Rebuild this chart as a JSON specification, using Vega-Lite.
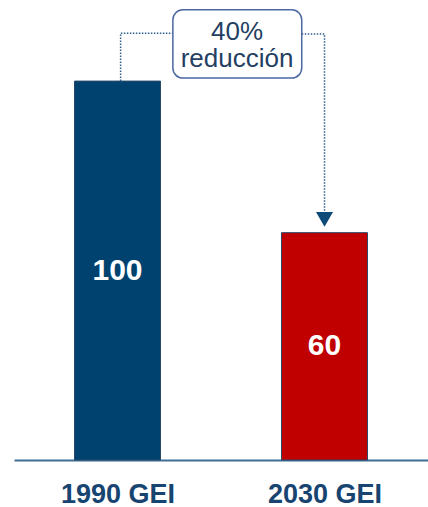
{
  "$schema": "https://vega.github.io/schema/vega-lite/v6.json",
  "width": 414,
  "height": 460,
  "padding": {"left": 14, "top": 0, "right": 0, "bottom": 0},
  "autosize": {"type": "pad"},
  "background": "white",
  "config": {"view": {"stroke": null}, "font": "Liberation Sans"},
  "datasets": {
    "bars": [
      {"year": 1990, "label": "1990 GEI", "value": 100},
      {"year": 2030, "label": "2030 GEI", "value": 60}
    ],
    "connectors": [
      {"seg": "left", "ord": 1, "x": 1990.6, "y": 100},
      {"seg": "left", "ord": 2, "x": 1990.6, "y": 112.6},
      {"seg": "left", "ord": 3, "x": 2000.7, "y": 112.6},
      {"seg": "right", "ord": 1, "x": 2025.6, "y": 112.4},
      {"seg": "right", "ord": 2, "x": 2030, "y": 112.4},
      {"seg": "right", "ord": 3, "x": 2030, "y": 65.2}
    ],
    "box": [
      {"x1": 2000.7, "x2": 2025.6, "y1": 100.8, "y2": 118.8, "xt": 2013.1, "yt": 110.8, "text": "40%\nreducción"}
    ],
    "arrow": [
      {"x": 2030, "y": 63.5}
    ]
  },
  "layer": [
    {
      "data": {"name": "bars"},
      "mark": {"type": "bar", "size": 86, "stroke": "#2b4a6b", "strokeWidth": 1},
      "encoding": {
        "x": {
          "field": "year",
          "type": "quantitative",
          "scale": {"domain": [1970, 2050], "nice": false, "zero": false, "padding": 0},
          "axis": {
            "values": [1990, 2030],
            "labelExpr": "datum.value + ' GEI'",
            "title": null,
            "ticks": false,
            "grid": false,
            "domainColor": "#3f6d96",
            "domainWidth": 2,
            "labelFont": "Liberation Sans",
            "labelFontWeight": "bold",
            "labelFontSize": 27,
            "labelColor": "#174470",
            "labelPadding": 21,
            "labelFlush": false,
            "labelOverlap": false
          }
        },
        "y": {
          "field": "value",
          "type": "quantitative",
          "scale": {"domain": [0, 121.4], "nice": false},
          "axis": null
        },
        "color": {
          "field": "label",
          "type": "nominal",
          "scale": {"domain": ["1990 GEI", "2030 GEI"], "range": ["#00426f", "#c00000"]},
          "legend": null
        }
      }
    },
    {
      "data": {"name": "bars"},
      "transform": [{"calculate": "datum.value / 2", "as": "mid"}],
      "mark": {"type": "text", "font": "Liberation Sans", "fontWeight": "bold", "fontSize": 30, "color": "white", "baseline": "middle", "align": "center"},
      "encoding": {
        "x": {"field": "year", "type": "quantitative"},
        "y": {"field": "mid", "type": "quantitative"},
        "text": {"field": "value", "type": "quantitative"}
      }
    },
    {
      "data": {"name": "connectors"},
      "mark": {"type": "line", "color": "#2f5f8f", "strokeWidth": 1.5, "strokeDash": [1.5, 1.5]},
      "encoding": {
        "x": {"field": "x", "type": "quantitative"},
        "y": {"field": "y", "type": "quantitative"},
        "detail": {"field": "seg", "type": "nominal"},
        "order": {"field": "ord", "type": "quantitative"}
      }
    },
    {
      "data": {"name": "arrow"},
      "mark": {"type": "point", "shape": "triangle-down", "size": 290, "filled": true, "color": "#0e4a78", "opacity": 1},
      "encoding": {
        "x": {"field": "x", "type": "quantitative"},
        "y": {"field": "y", "type": "quantitative"}
      }
    },
    {
      "data": {"name": "box"},
      "mark": {"type": "rect", "fill": "white", "stroke": "#4b68a3", "strokeWidth": 1.5, "cornerRadius": 10},
      "encoding": {
        "x": {"field": "x1", "type": "quantitative"},
        "x2": {"field": "x2"},
        "y": {"field": "y1", "type": "quantitative"},
        "y2": {"field": "y2"}
      }
    },
    {
      "data": {"name": "box"},
      "mark": {"type": "text", "font": "Liberation Sans", "fontSize": 26, "color": "#253f63", "align": "center", "baseline": "alphabetic", "lineBreak": "\n", "lineHeight": 27},
      "encoding": {
        "x": {"field": "xt", "type": "quantitative"},
        "y": {"field": "yt", "type": "quantitative"},
        "text": {"field": "text"}
      }
    }
  ]
}
